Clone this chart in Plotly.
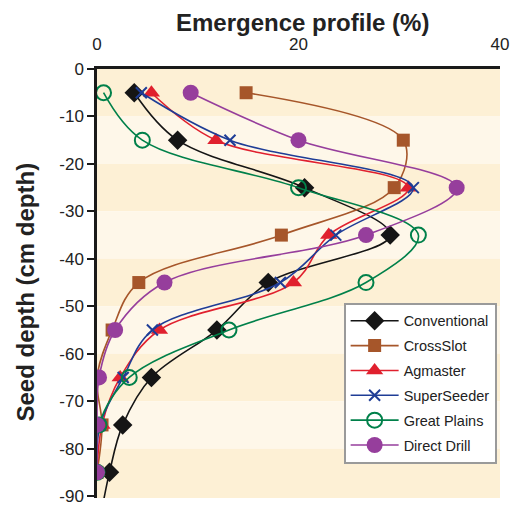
import plotly.graph_objects as go

depths = [-5, -15, -25, -35, -45, -55, -65, -75, -85]
conventional = [3.7, 8.0, 20.6, 29.1, 17.0, 11.9, 5.4, 2.55, 1.24]
crossslot = [14.8, 30.4, 29.5, 18.3, 4.15, 1.5, 0.0, 0.5, 0.0]
agmaster = [5.4, 11.8, 30.9, 23.0, 19.5, 6.2, 2.3, 0.5, 0.0]
superseeder = [4.4, 13.2, 31.4, 23.7, 18.2, 5.5, 2.6, 0.3, 0.0]
great_plains = [0.65, 4.5, 20.0, 31.9, 26.7, 13.1, 3.2, 0.2, 0.0]
direct_drill = [9.3, 20.0, 35.7, 26.7, 6.7, 1.8, 0.2, 0.0, 0.0]
# conventional curve continues below the plotted range
conv_extra_depth = -95
conv_extra_value = 0.3

xticks = [0, 20, 40]
yticks = [0, -10, -20, -30, -40, -50, -60, -70, -80, -90]
yticklabels = ["0", "-10", "-20", "-30", "-40", "-50", "-60", "-70", "-80", "-90"]

series = [
    ("Conventional", conventional + [conv_extra_value], depths + [conv_extra_depth], "#151515",
     dict(symbol="diamond", size=15, color="#151515")),
    ("CrossSlot", crossslot, depths, "#A6562A",
     dict(symbol="square", size=13, color="#A6562A")),
    ("Agmaster", agmaster, depths, "#E0202E",
     dict(symbol="triangle-up", size=15, color="#E0202E")),
    ("SuperSeeder", superseeder, depths, "#1F3D96",
     dict(symbol="x-thin", size=11, color="#1F3D96", line=dict(width=2, color="#1F3D96"))),
    ("Great Plains", great_plains, depths, "#00804A",
     dict(symbol="circle-open", size=15, color="#00804A", line=dict(width=2, color="#00804A"))),
    ("Direct Drill", direct_drill, depths, "#963E9C",
     dict(symbol="circle", size=16, color="#963E9C")),
]

fig = go.Figure()
for name, xs, ys, col, mk in series:
    fig.add_trace(go.Scatter(
        x=xs, y=ys, name=name, mode="lines+markers", legendgroup=name,
        line=dict(color=col, width=1.6, shape="spline", smoothing=1.0),
        marker=mk,
    ))

shapes = []
for i in range(9):
    top = -10 * i
    bot = -10 * (i + 1)
    col = "#FDF0D5" if i % 2 == 0 else "#FEF7E9"
    shapes.append(dict(type="rect", xref="x", yref="y", x0=0, x1=40, y0=bot, y1=top,
                       fillcolor=col, line=dict(width=0), layer="below"))
shapes.append(dict(type="rect", xref="x", yref="y", x0=0, x1=40, y0=-95, y1=-90,
                   fillcolor="#FDF0D5", line=dict(width=0), layer="below"))

fig.update_layout(
    width=521, height=518,
    margin=dict(l=97, r=16, t=69, b=12),
    paper_bgcolor="white", plot_bgcolor="white",
    font=dict(family="Liberation Sans, Arial, sans-serif", size=17, color="#222"),
    shapes=shapes,
    showlegend=True,
    legend=dict(
        x=0.612, y=0.455, xanchor="left", yanchor="top",
        bgcolor="white", bordercolor="#9A9A9A", borderwidth=2,
        font=dict(size=14.5, color="#222"),
        itemwidth=48, tracegroupgap=3,
        entrywidth=150, entrywidthmode="pixels",
    ),
    xaxis=dict(
        side="top", range=[0, 40], tickvals=xticks, ticks="",
        showgrid=False, zeroline=False, showline=True, linecolor="#1a1a1a", linewidth=2.5,
        mirror=False, ticklabelstandoff=9,
    ),
    yaxis=dict(
        range=[-90.4, 0], tickvals=yticks, ticktext=yticklabels, ticks="outside", ticklen=7,
        tickwidth=2, tickcolor="#1a1a1a",
        showgrid=False, zeroline=False, showline=True, linecolor="#1a1a1a", linewidth=2.5,
    ),
    annotations=[
        dict(text="<b>Emergence profile (%)</b>", xref="paper", yref="paper",
             x=(305 - 97) / 408, y=1.0, yshift=47, xanchor="center", yanchor="middle",
             showarrow=False, font=dict(size=24, color="#222")),
        dict(text="<b>Seed depth (cm depth)</b>", xref="paper", yref="paper",
             x=0.0, xshift=-72, y=0.5, yshift=-9, xanchor="center", yanchor="middle",
             textangle=-90, showarrow=False, font=dict(size=24, color="#222")),
    ],
)

fig.write_html("out.html")
